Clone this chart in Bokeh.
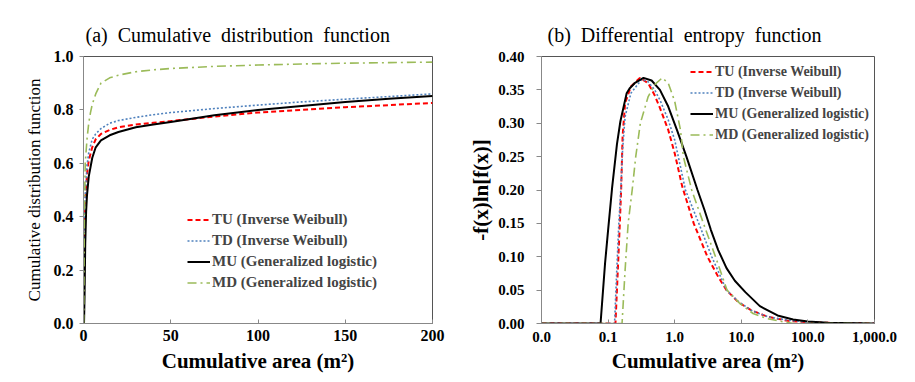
from bokeh.plotting import figure
from bokeh.layouts import row
from bokeh.models import Range1d, FixedTicker, NumeralTickFormatter, Title
from bokeh.embed import file_html
from bokeh.resources import INLINE

# ---------------- Data: (a) cumulative distribution function ----------------
tu_cdf_x = [0.2, 0.5, 1, 2, 3, 5, 7, 10, 15, 20, 30, 40, 50, 75, 100, 125, 150, 175, 200]
tu_cdf_y = [0.05, 0.3, 0.45, 0.56, 0.61, 0.66, 0.69, 0.71, 0.725, 0.735, 0.745, 0.752, 0.758, 0.775, 0.79, 0.80, 0.81, 0.818, 0.826]

td_cdf_x = [0.2, 0.5, 1, 2, 3, 5, 7, 10, 15, 20, 30, 40, 50, 75, 100, 125, 150, 175, 200]
td_cdf_y = [0.05, 0.32, 0.48, 0.59, 0.64, 0.69, 0.71, 0.73, 0.75, 0.76, 0.772, 0.782, 0.79, 0.805, 0.818, 0.83, 0.84, 0.85, 0.86]

mu_cdf_x = [0.3, 0.6, 1, 1.5, 2, 3, 5, 7, 10, 15, 20, 30, 40, 50, 75, 100, 125, 150, 175, 200]
mu_cdf_y = [0.0, 0.1, 0.3, 0.42, 0.48, 0.55, 0.62, 0.66, 0.686, 0.705, 0.717, 0.735, 0.745, 0.755, 0.78, 0.8, 0.815, 0.83, 0.842, 0.852]

md_cdf_x = [0.1, 0.3, 0.5, 1, 2, 3, 4, 5, 7, 10, 15, 20, 30, 40, 50, 75, 100, 125, 150, 175, 200]
md_cdf_y = [0.0, 0.2, 0.4, 0.6, 0.69, 0.75, 0.79, 0.82, 0.86, 0.9, 0.92, 0.93, 0.943, 0.95, 0.955, 0.963, 0.968, 0.972, 0.975, 0.977, 0.979]

# ---------------- Data: (b) differential entropy function ----------------
tu_ent_x = [0.01, 0.05, 0.129, 0.14, 0.15, 0.157, 0.165, 0.18, 0.22, 0.3, 0.4, 0.5, 0.6, 0.8, 1.0, 1.3, 1.93, 3.1, 4.5, 6.0, 9, 14, 25, 50, 100, 200, 1000]
tu_ent_y = [0, 0, 0, 0.08, 0.15, 0.2, 0.28, 0.33, 0.355, 0.368, 0.36, 0.342, 0.323, 0.29, 0.255, 0.205, 0.15, 0.1, 0.07, 0.05, 0.032, 0.02, 0.01, 0.004, 0.002, 0.001, 0]

td_ent_x = [0.01, 0.05, 0.125, 0.135, 0.145, 0.155, 0.165, 0.18, 0.22, 0.32, 0.4, 0.5, 0.6, 0.8, 1.0, 1.45, 2.3, 3.6, 6.0, 9, 14, 25, 50, 100, 200, 1000]
td_ent_y = [0, 0, 0, 0.08, 0.15, 0.2, 0.26, 0.31, 0.345, 0.366, 0.362, 0.35, 0.335, 0.305, 0.275, 0.2, 0.15, 0.1, 0.05, 0.033, 0.02, 0.01, 0.005, 0.002, 0.001, 0]

mu_ent_x = [0.01, 0.077, 0.09, 0.1, 0.115, 0.136, 0.153, 0.19, 0.21, 0.25, 0.34, 0.45, 0.6, 0.8, 1.08, 1.5, 2.2, 2.8, 3.5, 4.5, 6, 8, 11.5, 19, 35, 60, 100, 200, 1000]
mu_ent_y = [0, 0, 0.09, 0.14, 0.204, 0.269, 0.303, 0.345, 0.352, 0.36, 0.368, 0.364, 0.35, 0.325, 0.29, 0.25, 0.2, 0.17, 0.14, 0.11, 0.083, 0.064, 0.047, 0.026, 0.012, 0.006, 0.003, 0.001, 0]

md_ent_x = [0.01, 0.1, 0.162, 0.18, 0.2, 0.23, 0.26, 0.305, 0.4, 0.5, 0.65, 0.8, 1.0, 1.22, 1.35, 1.8, 2.7, 4.1, 6.1, 9.5, 15, 25, 40, 60, 100, 1000]
md_ent_y = [0, 0, 0, 0.08, 0.15, 0.2, 0.25, 0.3, 0.34, 0.358, 0.368, 0.36, 0.333, 0.29, 0.25, 0.2, 0.15, 0.1, 0.05, 0.03, 0.015, 0.007, 0.003, 0.0, 0, 0]

labels = ["TU (Inverse Weibull)", "TD (Inverse Weibull)",
          "MU (Generalized logistic)", "MD (Generalized logistic)"]

cdf_xticks = [0, 50, 100, 150, 200]
cdf_yticks = [0.0, 0.2, 0.4, 0.6, 0.8, 1.0]
ent_xticks = [0.01, 0.1, 1, 10, 100, 1000]
ent_xtick_labels = ["0.0", "0.1", "1.0", "10.0", "100.0", "1,000.0"]
ent_yticks = [0.0, 0.05, 0.10, 0.15, 0.20, 0.25, 0.30, 0.35, 0.40]

FONT = "'Liberation Serif', 'Times New Roman', serif"
styles = [
    dict(color="#FF0000", line_width=2, line_dash="5 3"),
    dict(color="#4F81BD", line_width=1.6, line_dash="2 2"),
    dict(color="#000000", line_width=2, line_dash="solid"),
    dict(color="#9BBB59", line_width=1.6, line_dash="9 4 2 4"),
]


def style_axes(p):
    for ax in (p.xaxis[0], p.yaxis[0]):
        ax.axis_line_color = "#888888"
        ax.major_tick_line_color = "#888888"
        ax.minor_tick_line_color = None
        ax.major_label_text_font = FONT
        ax.major_label_text_font_style = "bold"
        ax.major_label_text_color = "#000000"
        ax.axis_label_text_font = FONT
        ax.axis_label_text_color = "#000000"
    p.xaxis.major_tick_in = 4
    p.xaxis.major_tick_out = 0
    p.yaxis.major_tick_in = 0
    p.xgrid.visible = False
    p.ygrid.visible = False
    p.outline_line_color = "#555555"
    p.outline_line_width = 1
    p.background_fill_color = "white"
    p.border_fill_color = "white"


# ---------------- Figure (a) ----------------
p1 = figure(width=455, height=380, output_backend="svg", toolbar_location=None,
            x_range=Range1d(0, 200), y_range=Range1d(0, 1),
            min_border_left=83, min_border_right=23, min_border_top=56, min_border_bottom=57)
style_axes(p1)
p1.xaxis.ticker = FixedTicker(ticks=cdf_xticks)
p1.yaxis.ticker = FixedTicker(ticks=cdf_yticks)
p1.yaxis.formatter = NumeralTickFormatter(format="0.0")
p1.xaxis.formatter = NumeralTickFormatter(format="0")
p1.xaxis.major_label_text_font_size = "16px"
p1.yaxis.major_label_text_font_size = "16px"
p1.yaxis.major_tick_out = 4
p1.yaxis.major_label_standoff = 6
p1.xaxis.major_label_standoff = 6
p1.xaxis.axis_label = "Cumulative area (m²)"
p1.xaxis.axis_label_text_font_size = "21px"
p1.xaxis.axis_label_text_font_style = "bold"
p1.xaxis.axis_label_standoff = 5
p1.yaxis.axis_label = "Cumulative distribution function"
p1.yaxis.axis_label_text_font_size = "17px"
p1.yaxis.axis_label_text_font_style = "normal"
p1.yaxis.axis_label_standoff = 7

t1 = Title(text="(a)\u00a0 Cumulative\u00a0 distribution\u00a0 function", align="left",
           offset=2, text_font=FONT, text_font_size="20px", text_font_style="normal",
           text_color="#000000", standoff=22)
p1.add_layout(t1, "above")

cdf_data = [(tu_cdf_x, tu_cdf_y), (td_cdf_x, td_cdf_y), (mu_cdf_x, mu_cdf_y), (md_cdf_x, md_cdf_y)]
for (xs, ys), lab, st in zip(cdf_data, labels, styles):
    p1.line(xs, ys, legend_label=lab, **st)

leg1 = p1.legend[0]
leg1.location = (104, 30)
leg1.padding = 0
leg1.margin = 0
leg1.border_line_color = None
leg1.background_fill_alpha = 0
leg1.glyph_width = 23
leg1.glyph_height = 21
leg1.label_height = 21
leg1.label_standoff = 2
leg1.spacing = 0
leg1.label_text_font = FONT
leg1.label_text_font_size = "15px"
leg1.label_text_font_style = "bold"

# ---------------- Figure (b) ----------------
p2 = figure(width=450, height=380, output_backend="svg", toolbar_location=None,
            x_axis_type="log", x_range=Range1d(0.01, 1000), y_range=Range1d(0, 0.4),
            min_border_left=86, min_border_right=31, min_border_top=56, min_border_bottom=56)
style_axes(p2)
p2.xaxis.ticker = FixedTicker(ticks=ent_xticks)
p2.xaxis.major_label_overrides = {t: l for t, l in zip(ent_xticks, ent_xtick_labels)}
p2.yaxis.ticker = FixedTicker(ticks=ent_yticks)
p2.yaxis.formatter = NumeralTickFormatter(format="0.00")
p2.xaxis.major_label_text_font_size = "15px"
p2.yaxis.major_label_text_font_size = "15px"
p2.yaxis.major_tick_out = 5
p2.yaxis.major_label_standoff = 12
p2.xaxis.major_label_standoff = 8
p2.xaxis.axis_label = "Cumulative area (m²)"
p2.xaxis.axis_label_text_font_size = "21px"
p2.xaxis.axis_label_text_font_style = "bold"
p2.xaxis.axis_label_standoff = 4
p2.yaxis.axis_label = "-f(x)ln[f(x)]"
p2.yaxis.axis_label_text_font_size = "21px"
p2.yaxis.axis_label_text_font_style = "bold"
p2.yaxis.axis_label_standoff = 2

t2 = Title(text="(b)\u00a0 Differential\u00a0 entropy\u00a0 function", align="left",
           offset=6, text_font=FONT, text_font_size="20px", text_font_style="normal",
           text_color="#000000", standoff=22)
p2.add_layout(t2, "above")

ent_data = [(tu_ent_x, tu_ent_y), (td_ent_x, td_ent_y), (mu_ent_x, mu_ent_y), (md_ent_x, md_ent_y)]
for (xs, ys), lab, st in zip(ent_data, labels, styles):
    p2.line(xs, ys, legend_label=lab, **st)

leg2 = p2.legend[0]
leg2.location = (149, 178)
leg2.padding = 0
leg2.margin = 0
leg2.border_line_color = None
leg2.background_fill_alpha = 0
leg2.glyph_width = 23
leg2.glyph_height = 21
leg2.label_height = 21
leg2.label_standoff = 2
leg2.spacing = 0
leg2.label_text_font = FONT
leg2.label_text_font_size = "14px"
leg2.label_text_font_style = "bold"

layout = row(p1, p2)
open("out.html", "w").write(file_html(layout, INLINE))
